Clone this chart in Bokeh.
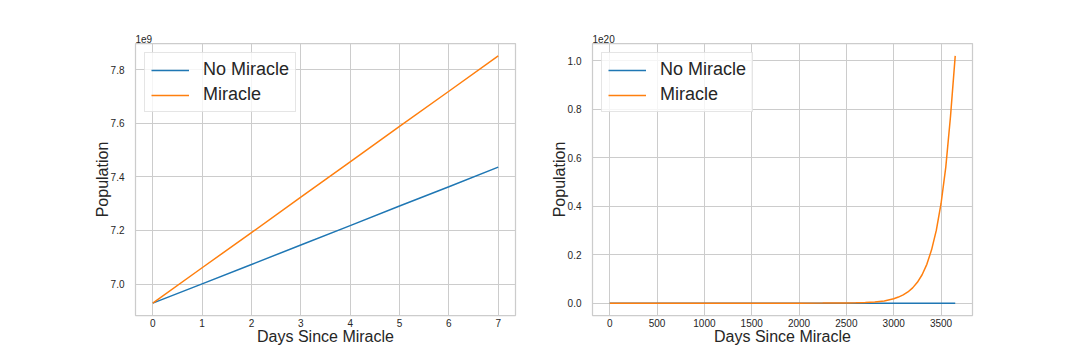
from bokeh.plotting import figure
from bokeh.layouts import row
from bokeh.models import FixedTicker, CustomJSTickFormatter, Legend, LegendItem, Title
from bokeh.embed import file_html
from bokeh.resources import INLINE

# ---- data: left chart (first week) ----
days_week = [0, 1, 2, 3, 4, 5, 6, 7]
no_miracle_week = [6.929e9, 7.001e9, 7.073e9, 7.146e9, 7.218e9, 7.291e9, 7.363e9, 7.436e9]
miracle_week = [6.929e9, 7.061e9, 7.192e9, 7.324e9, 7.456e9, 7.588e9, 7.719e9, 7.851e9]

# ---- data: right chart (ten years) ----
days_long = [0, 250, 500, 750, 1000, 1250, 1500, 1750, 2000, 2250, 2500, 2600, 2700,
             2800, 2900, 3000, 3050, 3100, 3150, 3200, 3250, 3300, 3350, 3400, 3450,
             3500, 3550, 3600, 3650]
miracle_long = [6.93e9, 3.4e10, 1.7e11, 8.5e11, 4.2e12, 2.1e13, 1.0e14, 5.1e14, 2.6e15,
                1.3e16, 6.3e16, 1.2e17, 2.4e17, 4.6e17, 9.0e17, 1.8e18, 2.5e18, 3.4e18,
                4.6e18, 6.3e18, 8.6e18, 1.17e19, 1.6e19, 2.2e19, 3.0e19, 4.1e19, 5.6e19,
                7.7e19, 1.02e20]
days_long_nm = [0, 1000, 2000, 3000, 3650]
no_miracle_long = [6.93e9, 7.9e10, 1.5e11, 2.2e11, 2.7e11]

# ---- ticks ----
left_xticks = [0, 1, 2, 3, 4, 5, 6, 7]
left_yticks = [7.0e9, 7.2e9, 7.4e9, 7.6e9, 7.8e9]
right_xticks = [0, 500, 1000, 1500, 2000, 2500, 3000, 3500]
right_yticks = [0.0, 0.2e20, 0.4e20, 0.6e20, 0.8e20, 1.0e20]

labels = ["No Miracle", "Miracle"]
colors = ["#1f77b4", "#ff7f0e"]

FONT = "Liberation Sans"
TXT = "#262626"
GRID = "#cccccc"


def make_fig(width, bl, br, xr, yr, xticks, yticks, scale, offset_text):
    p = figure(width=width, height=352, x_range=xr, y_range=yr,
               output_backend="svg", toolbar_location=None,
               min_border_left=bl, min_border_right=br,
               min_border_top=43, min_border_bottom=37)
    p.background_fill_color = "white"
    p.border_fill_color = "white"
    p.outline_line_color = GRID
    p.outline_line_width = 1.25
    p.grid.grid_line_color = GRID
    p.grid.grid_line_width = 1
    p.xaxis.ticker = FixedTicker(ticks=xticks)
    p.yaxis.ticker = FixedTicker(ticks=yticks)
    p.yaxis.formatter = CustomJSTickFormatter(code="return (tick/%s).toFixed(1);" % scale)
    for ax in (p.xaxis, p.yaxis):
        ax.axis_line_color = None
        ax.major_tick_line_color = None
        ax.minor_tick_line_color = None
        ax.major_label_text_font = FONT
        ax.major_label_text_font_size = "10px"
        ax.major_label_text_color = TXT
        ax.axis_label_text_font = FONT
        ax.axis_label_text_font_size = "16px"
        ax.axis_label_text_font_style = "normal"
        ax.axis_label_text_color = TXT
    p.xaxis.major_label_standoff = -3
    p.xaxis.axis_label_standoff = -2
    p.yaxis.major_label_standoff = 5
    p.yaxis.axis_label_standoff = -3
    p.xaxis.axis_label = "Days Since Miracle"
    p.yaxis.axis_label = "Population"
    t = Title(text=offset_text, align="left", text_font=FONT, text_font_size="10px",
              text_font_style="normal", text_color=TXT, standoff=2)
    p.add_layout(t, "above")
    return p


def add_lines(p, xs_list, ys_list):
    items = []
    for xs, ys, lab, c in zip(xs_list, ys_list, labels, colors):
        r = p.line(xs, ys, line_color=c, line_width=1.5)
        items.append(LegendItem(label=lab, renderers=[r]))
    leg = Legend(items=items, location="top_left", margin=9,
                 label_text_font=FONT, label_text_font_size="18px", label_text_color=TXT,
                 glyph_width=38, glyph_height=20, label_height=20, label_standoff=14,
                 padding=6, spacing=4,
                 border_line_color=GRID, border_line_width=1,
                 background_fill_color="white", background_fill_alpha=0.8)
    p.add_layout(leg, "center")


p1 = make_fig(540, 135, 25, (-0.35, 7.35), (6.883e9, 7.897e9),
              left_xticks, left_yticks, "1e9", "1e9")
add_lines(p1, [days_week, days_week], [no_miracle_week, miracle_week])

p2 = make_fig(532, 52, 100, (-182.5, 3832.5), (-0.051e20, 1.071e20),
              right_xticks, right_yticks, "1e20", "1e20")
add_lines(p2, [days_long_nm, days_long], [no_miracle_long, miracle_long])

layout = row(p1, p2)
open("out.html", "w").write(file_html(layout, INLINE))
